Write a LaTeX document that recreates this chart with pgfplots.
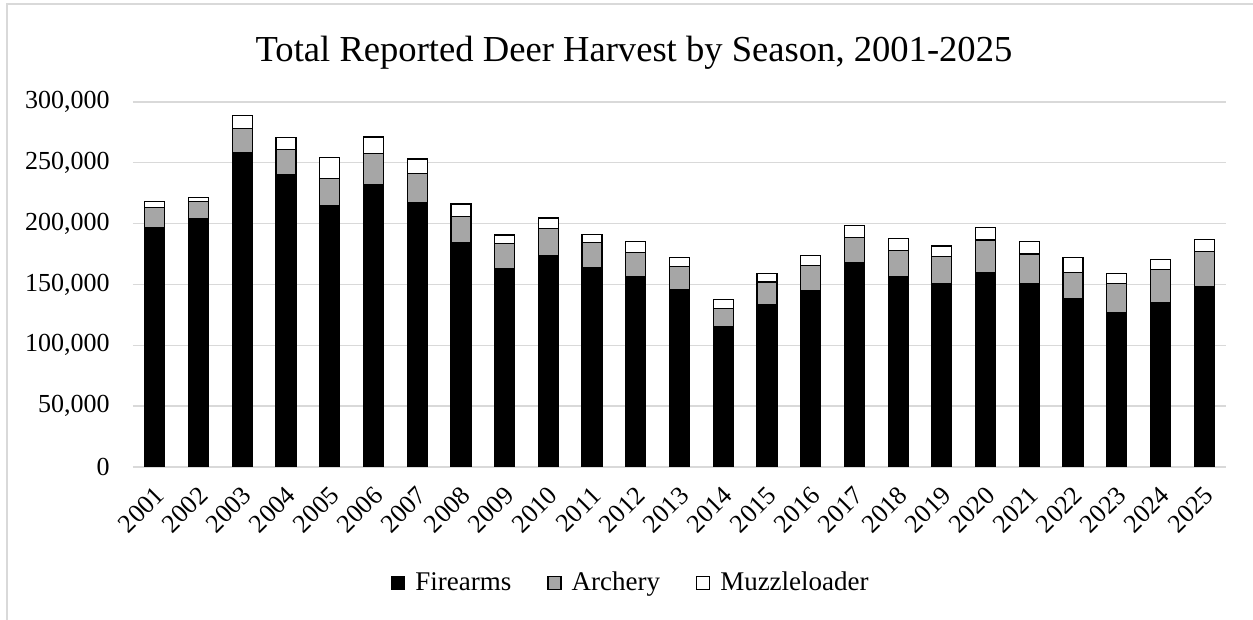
\documentclass[border=0pt]{standalone}
\usepackage{fontspec}
\setmainfont{Liberation Serif}
\usepackage{pgfplots}
\usepackage{pgfplotstable}
\pgfplotsset{compat=1.18}
\definecolor{gridgray}{RGB}{217,217,217}
\definecolor{archgray}{RGB}{166,166,166}

% harvest by season (Firearms, Archery, Muzzleloader)
\pgfplotstableread{
x  F      A     M
0  197000 16000 5000
1  204000 14000 3500
2  258000 20000 10500
3  240000 20500 10000
4  215000 22000 17000
5  232000 25500 13500
6  217000 24000 12000
7  184000 22000 10000
8  163000 20500 7000
9  174000 22000 8500
10 164000 20500 6500
11 156000 20500 8500
12 146000 19000 7000
13 115000 15500 7000
14 133000 19000 7000
15 145000 20500 8500
16 168000 20500 10000
17 156000 22000 10000
18 151000 22000 8500
19 159500 27000 10000
20 151000 24000 10000
21 138000 22000 12000
22 126500 24000 8500
23 135000 27000 8500
24 148000 29000 10000
}\deer

\begin{document}
\begin{tikzpicture}[x=0.5pt,y=0.5pt]
\useasboundingbox (0,0) rectangle (1253,620);
\draw[gridgray, line width=0.75pt] (7,-20) rectangle (1290,616);
\begin{axis}[
at = {(66.5pt,76.5pt)},
anchor = south west,
scale only axis,
width = 546.5pt,
height = 182.6pt,
ybar stacked,
bar width = 10pt,
xmin = -0.5,
xmax = 24.5,
ymin = 0,
ymax = 300000,
xtick = data,
xticklabels = {2001,2002,2003,2004,2005,2006,2007,2008,2009,2010,2011,2012,2013,2014,2015,2016,2017,2018,2019,2020,2021,2022,2023,2024,2025},
ytick = {0,50000,100000,150000,200000,250000,300000},
yticklabels = {0,{50,000},{100,000},{150,000},{200,000},{250,000},{300,000}},
scaled y ticks = false,
axis line style = {draw=none},
major tick length = 0pt,
ymajorgrids = true,
grid style = {gridgray, line width=0.75pt},
tick label style = {font=\fontsize{13}{15}\selectfont},
yticklabel style = {anchor=east, inner sep=0pt, xshift=-11.5pt},
xticklabel style = {xshift=2.5pt, yshift=-12pt, rotate=45, anchor=east, inner sep=0pt},
legend style = {at={(0.4565,-0.3176)}, anchor=center, draw=none, legend columns=3,
  font=\fontsize{13.5}{16}\selectfont,
  /tikz/every odd column/.append style={column sep=3pt},
  /tikz/every even column/.append style={column sep=16pt}},
legend image code/.code = {\draw[#1, line width=0.6pt] (0pt,-3.25pt) rectangle (6.5pt,3.25pt);},
]
\addplot [fill=black, draw=black, line width=0.6pt] table [x=x, y=F] {\deer};
\addplot [fill=archgray, draw=black, line width=0.6pt] table [x=x, y=A] {\deer};
\addplot [fill=white, draw=black, line width=0.6pt] table [x=x, y=M] {\deer};
\legend{Firearms, Archery, Muzzleloader}
\end{axis}
\node [anchor=base, font=\fontsize{18.3}{22}\selectfont] at (634,558) {Total Reported Deer Harvest by Season, 2001-2025};
\end{tikzpicture}
\end{document}
